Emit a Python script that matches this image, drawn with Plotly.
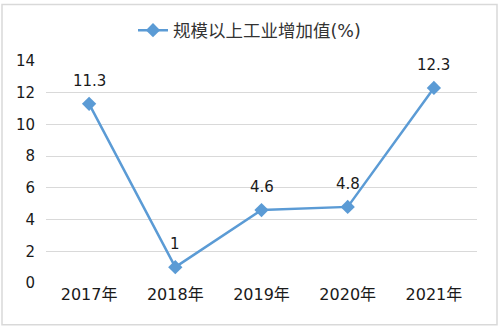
import plotly.graph_objects as go

categories = ["2017年", "2018年", "2019年", "2020年", "2021年"]
values = [11.3, 1, 4.6, 4.8, 12.3]
labels = ["11.3", "1", "4.6", "4.8", "12.3"]
series_name = "规模以上工业增加值(%)"
y_ticks = [0, 2, 4, 6, 8, 10, 12, 14]

FONT = "DejaVu Sans, Noto Sans CJK SC, sans-serif"
COLOR = "#5B9BD5"
TXT = "#1a1a1a"

fig = go.Figure()
fig.add_trace(go.Scatter(
    x=categories, y=values, name=series_name,
    mode="lines+markers",
    line=dict(color=COLOR, width=2.5),
    marker=dict(symbol="diamond", size=11, color=COLOR),
))

for c, v, t in zip(categories, values, labels):
    fig.add_annotation(x=c, y=v, text=t, showarrow=False, yshift=23, yanchor="middle",
                       font=dict(family=FONT, size=15, color=TXT))

L, R, T, B = 46, 22, 59, 44
W, H = 499, 327
pw, ph = W - L - R, H - T - B

fig.update_layout(
    width=W, height=H,
    margin=dict(l=L, r=R, t=T, b=B),
    paper_bgcolor="white", plot_bgcolor="white",
    font=dict(family=FONT, size=15, color=TXT),
    showlegend=True,
    legend=dict(orientation="h", x=0.5 - 12 / pw, xanchor="center", y=1 + 31 / ph, yanchor="middle",
                font=dict(family=FONT, size=17.5, color="#333")),
    xaxis=dict(type="category", range=[-0.5, 4.5], showgrid=False, zeroline=False,
               showline=False, ticks="", tickfont=dict(size=16)),
    yaxis=dict(range=[0, 14], tickvals=y_ticks, showgrid=True, gridcolor="#d9d9d9",
               gridwidth=1, zeroline=False, showline=False, ticks="",
               tickfont=dict(size=15), ticklabelstandoff=10),
    shapes=[dict(type="rect", xref="paper", yref="paper",
                 x0=-(L - 2) / pw, x1=1 + (R - 2) / pw,
                 y0=-(B - 2) / ph, y1=1 + (T - 2) / ph,
                 line=dict(color="#d9d9d9", width=1.5), fillcolor="rgba(0,0,0,0)")],
)

fig.write_html("out.html")
